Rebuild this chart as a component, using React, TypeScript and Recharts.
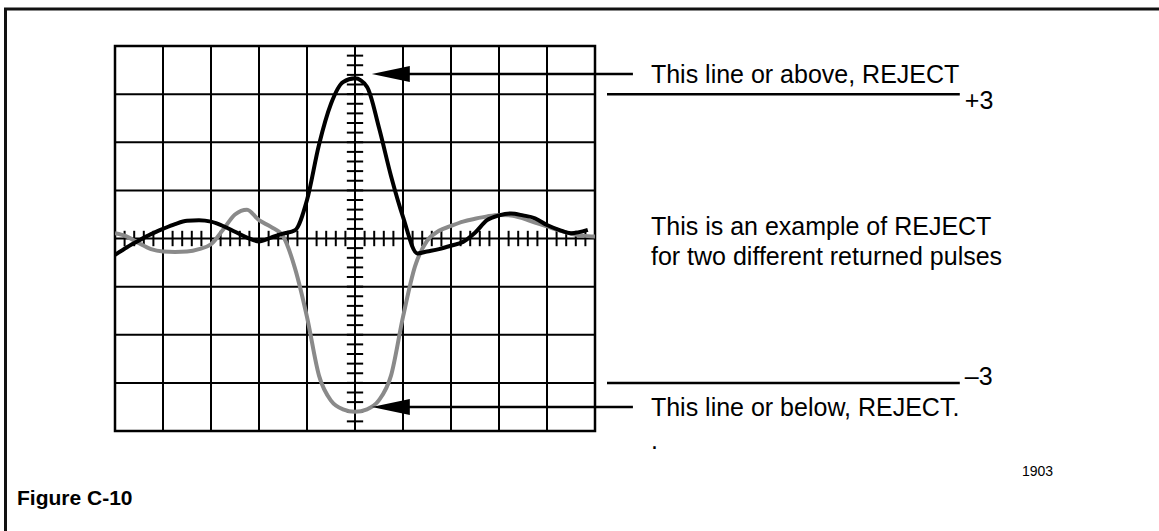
import React from 'react';
import { ComposedChart, Line, XAxis, YAxis, ReferenceLine, ReferenceArea } from 'recharts';

// Pulse A (black): position in screen divisions and deflection in divisions
const pulseAX = [-5, -4.75, -4.5, -4.25, -4, -3.75, -3.5, -3.25, -3, -2.75, -2.5, -2.25, -2, -1.75, -1.5, -1.25, -1, -0.75, -0.5, -0.25, 0, 0.25, 0.5, 0.75, 1, 1.3, 1.5, 1.75, 2, 2.25, 2.5, 2.75, 3, 3.25, 3.5, 3.75, 4, 4.25, 4.5, 4.85];
const pulseAY = [-0.34, -0.18, -0.04, 0.09, 0.2, 0.3, 0.37, 0.38, 0.35, 0.26, 0.14, 0.02, -0.06, 0.02, 0.1, 0.17, 0.8, 1.95, 2.8, 3.25, 3.33, 3.15, 2.3, 1.3, 0.45, -0.31, -0.27, -0.22, -0.15, -0.07, 0.12, 0.38, 0.48, 0.52, 0.48, 0.42, 0.28, 0.18, 0.11, 0.18];

// Pulse B (gray)
const pulseBX = [-5, -4.75, -4.5, -4.25, -4, -3.75, -3.5, -3.25, -3, -2.75, -2.5, -2.25, -2, -1.75, -1.5, -1.25, -1, -0.75, -0.5, -0.25, 0, 0.25, 0.5, 0.75, 1, 1.25, 1.5, 1.75, 2, 2.25, 2.5, 2.75, 3, 3.25, 3.5, 3.75, 4, 4.25, 4.5, 4.75, 5];
const pulseBY = [0.11, 0.04, -0.1, -0.22, -0.27, -0.28, -0.27, -0.22, -0.12, 0.18, 0.5, 0.6, 0.38, 0.24, 0.05, -0.62, -1.63, -2.85, -3.37, -3.55, -3.6, -3.55, -3.36, -2.85, -1.63, -0.58, -0.05, 0.16, 0.26, 0.35, 0.41, 0.46, 0.49, 0.48, 0.42, 0.33, 0.25, 0.17, 0.1, 0.06, 0.04];

// Graticule
const majorX = [-4, -3, -2, -1, 0, 1, 2, 3, 4];
const majorY = [-3, -2, -1, 1, 2, 3];
const minorStep = 0.2;
const minorX = Array.from({ length: 49 }, (_, i) => Math.round((-4.8 + i * minorStep) * 10) / 10);
const minorY = Array.from({ length: 39 }, (_, i) => Math.round((-3.8 + i * minorStep) * 10) / 10);

// Reject thresholds and their annotations
const rejectLevels = [3, -3];
const rejectLevelLabels = ['+3', '\u20133'];
const rejectLabelShift = [6, -7];
const arrowLevels = [3.42, -3.5];
const arrowTexts = ['This line or above, REJECT', 'This line or below, REJECT.'];
const noteLines = ['This is an example of REJECT', 'for two different returned pulses'];
const figureTitle = 'Figure C-10';
const figureNumber = '1903';

const pulseA = pulseAX.map((x, i) => ({ x, y: pulseAY[i] }));
const pulseB = pulseBX.map((x, i) => ({ x, y: pulseBY[i] }));

const FONT = '"Liberation Sans", Arial, Helvetica, sans-serif';

const ArrowShape = (props: any) => {
  const { x1, y1, x2 } = props;
  const tip = Math.min(x1, x2);
  const end = Math.max(x1, x2);
  const head = 38;
  const half = 8;
  return (
    <g>
      <line x1={tip + head - 2} y1={y1} x2={end} y2={y1} stroke="#000" strokeWidth={2.5} />
      <polygon points={`${tip},${y1} ${tip + head},${y1 - half} ${tip + head},${y1 + half}`} fill="#000" />
    </g>
  );
};

const levelLabel = (text: string, shift: number) => (props: any) => {
  const vb = props.viewBox || {};
  const x = (vb.x || 0) + (vb.width || 0) + 5;
  const y = (vb.y || 0) + shift;
  return (
    <text x={x} y={y} dy="0.36em" fontSize={25} fontFamily={FONT} fill="#000">
      {text}
    </text>
  );
};

export default function App() {
  return (
    <div style={{ position: 'absolute', left: 0, top: 0, width: 1159, height: 531, background: '#fff', fontFamily: FONT }}>
      <div style={{ position: 'absolute', left: 0, top: 0 }}>
        <ComposedChart width={1159} height={531} margin={{ top: 46, right: 564, bottom: 100, left: 115 }}>
          <XAxis type="number" dataKey="x" domain={[-5, 5]} allowDataOverflow hide />
          <YAxis type="number" dataKey="y" domain={[-4, 4]} allowDataOverflow hide />
          {majorX.map((v) => (
            <ReferenceLine key={`gx${v}`} x={v} stroke="#000" strokeWidth={2} />
          ))}
          {majorY.map((v) => (
            <ReferenceLine key={`gy${v}`} y={v} stroke="#000" strokeWidth={2} />
          ))}
          <ReferenceLine y={0} stroke="#000" strokeWidth={2.2} />
          {minorX.map((v) => (
            <ReferenceLine key={`mx${v}`} segment={[{ x: v, y: -0.16 }, { x: v, y: 0.16 }]} stroke="#000" strokeWidth={2} />
          ))}
          {minorY.map((v) => (
            <ReferenceLine key={`my${v}`} segment={[{ x: -0.17, y: v }, { x: 0.17, y: v }]} stroke="#000" strokeWidth={2} />
          ))}
          <ReferenceArea x1={-5} x2={5} y1={-4} y2={4} fill="none" fillOpacity={0} stroke="#000" strokeWidth={2.5} />
          <Line data={pulseB} dataKey="y" type="monotone" stroke="#8a8a8a" strokeWidth={4} dot={false} isAnimationActive={false} />
          <Line data={pulseA} dataKey="y" type="monotone" stroke="#000" strokeWidth={4} dot={false} isAnimationActive={false} />
          {rejectLevels.map((lv, i) => (
            <ReferenceLine
              key={`rl${lv}`}
              segment={[{ x: 5.25, y: lv }, { x: 12.6, y: lv }]}
              ifOverflow="visible"
              stroke="#000"
              strokeWidth={2.5}
              label={{ content: levelLabel(rejectLevelLabels[i], rejectLabelShift[i]) }}
            />
          ))}
          {arrowLevels.map((lv, i) => (
            <ReferenceLine
              key={`ar${lv}`}
              segment={[{ x: 0.35, y: lv }, { x: 5.79, y: lv }]}
              ifOverflow="visible"
              shape={ArrowShape}
              label={{ value: arrowTexts[i], position: 'right', offset: 18, fontSize: 25, fill: '#000', fontFamily: FONT }}
            />
          ))}
        </ComposedChart>
      </div>
      <svg width={1159} height={531} style={{ position: 'absolute', left: 0, top: 0, pointerEvents: 'none' }}>
        <line x1={4} y1={9} x2={1159} y2={9} stroke="#111" strokeWidth={3} />
        <line x1={5.5} y1={8} x2={5.5} y2={531} stroke="#111" strokeWidth={3} />
        <text x={651} y={235} fontSize={25} fontFamily={FONT} fill="#000">{noteLines[0]}</text>
        <text x={651} y={265} fontSize={25} fontFamily={FONT} fill="#000">{noteLines[1]}</text>
        <text x={651} y={449} fontSize={25} fontFamily={FONT} fill="#000">.</text>
        <text x={1022} y={476} fontSize={14} fontFamily={FONT} fill="#000">{figureNumber}</text>
        <text x={17} y={505} fontSize={21} fontWeight="bold" fontFamily={FONT} fill="#000">{figureTitle}</text>
      </svg>
    </div>
  );
}
